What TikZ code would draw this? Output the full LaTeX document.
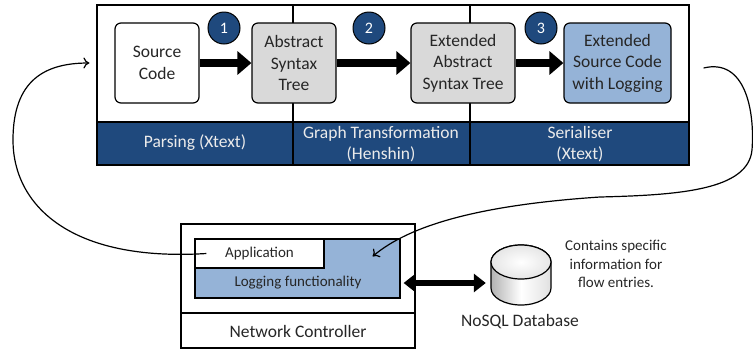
\documentclass[tikz,border=0pt]{standalone}
\usepackage{fontspec}
\setmainfont{Carlito}
\usetikzlibrary{arrows.meta}
\definecolor{darkblue}{RGB}{31,73,125}
\definecolor{lightblue}{RGB}{149,179,215}
\definecolor{boxgray}{RGB}{217,217,217}
\definecolor{textgray}{RGB}{38,38,38}

\begin{document}
\begin{tikzpicture} [
                x=1pt, y=-1pt,
                every node/.style = {text=textgray},
                big/.style = {font=\fontsize{17.5}{21.5}\selectfont},
                small/.style = {font=\fontsize{15}{18.3}\selectfont},
                stage/.style = {draw,big,rounded corners=6pt,line width=1.2pt,align=center,minimum height=80pt,inner sep=2pt},
                source stage/.style = {stage,fill=white,minimum width=84pt},
                tree stage/.style = {stage,fill=boxgray},
                output stage/.style = {stage,fill=lightblue,minimum width=107pt},
                step circle/.style = {circle,draw,line width=1pt,fill=darkblue,text=white,minimum size=32pt,inner sep=0pt,font=\fontsize{16}{16}\selectfont},
                band label/.style = {big,text=white!92!black,align=center},
                frame/.style = {draw,line width=1.5pt},
                flow/.style = {draw,line width=8pt,-{Triangle[length=14pt,width=23pt]}},
                db flow/.style = {draw,line width=6pt,{Triangle[length=12pt,width=18pt]}-{Triangle[length=12pt,width=18pt]}},
                feedback/.style = {draw,line width=1.2pt,-{To[length=6pt,width=11pt]}},
                db outline/.style = {draw,line width=1.2pt}
            ]
            \useasboundingbox (0,0) rectangle (753,354);
            % the tool chain frame with its bands
            \fill[darkblue] (97,122) rectangle (689,165);
            \path[frame] (97,5) rectangle (689,165);
            \path[frame] (97,122) -- (689,122);
            \foreach \x in {293,470}
                \path[frame] (\x,5) -- (\x,165);
            \foreach \pos/\name/\text in {
                {(195,143)/parsing/Parsing (Xtext)},
                {(381,144)/transform/Graph Transformation\\(Henshin)},
                {(580,144)/serialiser/Serialiser\\(Xtext)}}
                \node[band label] (\name) at \pos {\text};
            % the stages
            \node[source stage] (src) at (157,63) {Source\\Code};
            \node[tree stage,minimum width=84pt] (ast) at (294,63) {Abstract\\Syntax\\Tree};
            \node[tree stage,minimum width=104pt] (east) at (463,63) {Extended\\Abstract\\Syntax Tree};
            \node[output stage] (escl) at (617.5,63) {Extended\\Source Code\\with Logging};
            \foreach \pos/\name/\num in {{(224,28)/one/1}, {(369,28)/two/2}, {(541,28)/three/3}}
                \node[step circle] (\name) at \pos {\num};
            \foreach \source/\dest in {src/ast, ast/east, east/escl}
                \path[flow] (\source) -- (\dest);
            % the network controller
            \node[draw,line width=1.5pt,fill=white,minimum width=234pt,minimum height=124pt,inner sep=0pt] (ctrl) at (298,286) {};
            \path[frame] (ctrl.west |- 0,313) -- (ctrl.east |- 0,313);
            \node[big] (ctrltext) at (298,331) {Network Controller};
            \node[draw,line width=1.2pt,fill=lightblue,minimum width=205pt,minimum height=59pt,inner sep=0pt] (logging) at (297.5,268.5) {};
            \node[small] (logtext) at (298,283) {Logging functionality};
            \node[draw,line width=1.2pt,fill=white,small,minimum width=129pt,minimum height=29pt,inner sep=0pt] (app) at (259.5,253.5) {Application};
            % the database
            \node[minimum width=60pt,minimum height=60pt,inner sep=0pt] (db) at (521,275) {};
            \shade[db outline,left color=black!30,right color=black!12,middle color=white]
                (491,262) -- (491,288) arc[start angle=180,end angle=0,x radius=30,y radius=17]
                -- (551,262) arc[start angle=0,end angle=-180,x radius=30,y radius=17] -- cycle;
            \shade[db outline,inner color=white,outer color=black!10] (521,262) ellipse [x radius=30,y radius=17];
            \node[big] (dbtext) at (520,322) {NoSQL Database};
            \node[small,align=center] (note) at (616,264) {Contains specific\\information for\\flow entries.};
            \path[db flow] ([xshift=3pt,yshift=-14.5pt]logging.east) -- ([xshift=-5pt,yshift=-8pt]db.west);
            % the loop back
            \path[feedback] ([xshift=32pt,yshift=-5pt]escl.east) .. controls (745,58) and (755,110) .. (752,150)
                .. controls (748,190) and (680,195) .. (600,197)
                .. controls (480,205) and (410,225) .. ([xshift=-28pt,yshift=-18pt]logging.north east);
            \path[feedback] ([xshift=12pt]app.west) .. controls (70,262) and (13,205) .. (13,140)
                .. controls (13,80) and (45,63) .. ([xshift=-25pt]src.west);
        \end{tikzpicture}
\end{document}
